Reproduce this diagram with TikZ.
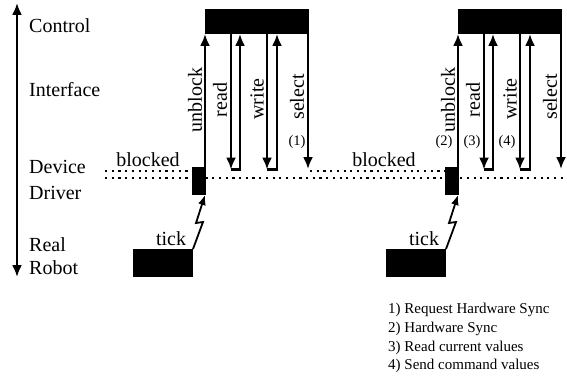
\documentclass[tikz,border=0pt]{standalone}
\usepackage{fontspec}
\setmainfont{Liberation Serif}
\usetikzlibrary{arrows.meta}

\tikzset{
    solidbox/.style={fill=black, draw=none, inner sep=0pt, outer sep=0pt},
    msg/.style={line width=2.2pt, -{Latex[length=12pt,width=10pt]}},
    layeraxis/.style={line width=2.2pt, {Latex[length=12pt,width=10pt]}-{Latex[length=12pt,width=10pt]}},
    spark/.style={line width=1.8pt, -{Latex[length=10pt,width=8pt]}},
    idle/.style={line width=2.2pt, dash pattern=on 2.2pt off 4.5pt},
    lbl/.style={font=\fontsize{20}{24}\selectfont, inner sep=0pt},
    vlbl/.style={lbl, rotate=90},
    num/.style={font=\fontsize{14.5}{17}\selectfont, inner sep=0pt},
    legend/.style={font=\fontsize{15}{18.7}\selectfont, inner sep=0pt, align=left},
}

\begin{document}
\begin{tikzpicture}[x=1pt, y=-1pt]

    % Page size (pixel units, y downwards)
    \useasboundingbox (0,0) rectangle (567,377);

    % Layer axis and layer names
    \coordinate (axtop) at (17,3);
    \coordinate (axbot) at (17,277);
    \draw[layeraxis] (axtop) -- (axbot);
    \node[lbl, anchor=west] (ctl) at (29,26) {Control};
    \node[lbl, anchor=west] (ifc) at (29,90) {Interface};
    \node[lbl, anchor=west] (dev) at (29,167) {Device};
    \node[lbl, anchor=west] (drv) at (29,193) {Driver};
    \node[lbl, anchor=west] (rea) at (29,245) {Real};
    \node[lbl, anchor=west] (rob) at (29,268) {Robot};

    % Driver time line (dotted)
    \coordinate (lineL) at (105,178);
    \coordinate (lineR) at (565,178);
    \draw[idle] (lineL) -- (lineR);
    \coordinate (blkAL) at (105,171);
    \coordinate (blkAR) at (192,171);
    \coordinate (blkBL) at (310,171);
    \coordinate (blkBR) at (445,171);
    \draw[idle] (blkAL) -- (blkAR);
    \draw[idle] (blkBL) -- (blkBR);
    \node[lbl] (blockedA) at (148,160) {blocked};
    \node[lbl] (blockedB) at (384,160) {blocked};

    % One cycle per tick
    \foreach \g/\ox in {A/0, B/253} {
        \begin{scope}[xshift=\ox]
            % Blocks
            \node[solidbox, minimum width=104pt, minimum height=25pt] (ctrl\g) at (257,21.5) {};
            \node[solidbox, minimum width=14pt, minimum height=28pt] (dd\g) at (199,181) {};
            \node[solidbox, minimum width=60pt, minimum height=28pt] (robot\g) at (163,263) {};

            % Calls between driver and control
            \coordinate (ub\g) at ([xshift=-1pt]dd\g.north east);
            \coordinate (rd\g) at (231,169.5);
            \coordinate (ru\g) at (240,169.5);
            \coordinate (wd\g) at (267,169.5);
            \coordinate (wu\g) at (277,169.5);
            \coordinate (sel\g) at (308,169);
            \draw[msg] (ub\g) -- (ub\g |- ctrl\g.south);
            \draw[msg] (rd\g |- ctrl\g.south) -- (rd\g);
            \draw[msg] (rd\g) -- (ru\g) -- (ru\g |- ctrl\g.south);
            \draw[msg] (wd\g |- ctrl\g.south) -- (wd\g);
            \draw[msg] (wd\g) -- (wu\g) -- (wu\g |- ctrl\g.south);
            \draw[msg] (sel\g |- ctrl\g.south) -- (sel\g);

            \node[vlbl] (unblock\g) at (195,100) {unblock};
            \node[vlbl] (read\g) at (220,100) {read};
            \node[vlbl] (write\g) at (257,99) {write};
            \node[vlbl] (select\g) at (297,97) {select};

            % Hardware tick
            \coordinate (tk1\g) at (203,222);
            \coordinate (tk2\g) at (196,223);
            \draw[spark] (robot\g.north east) -- (tk1\g) -- (tk2\g) -- ([xshift=-1pt]dd\g.south east);
            \node[lbl] (tick\g) at (171,239) {tick};
        \end{scope}
    }

    % Step numbers
    \node[num] (n1) at (297,142) {(1)};
    \node[num] (n2) at (444,142) {(2)};
    \node[num] (n3) at (472,142) {(3)};
    \node[num] (n4) at (507,142) {(4)};

    % Legend
    \node[legend, anchor=north west] (key) at (388,303) {1) Request Hardware Sync\\2) Hardware Sync\\3) Read current values\\4) Send command values};

\end{tikzpicture}
\end{document}
